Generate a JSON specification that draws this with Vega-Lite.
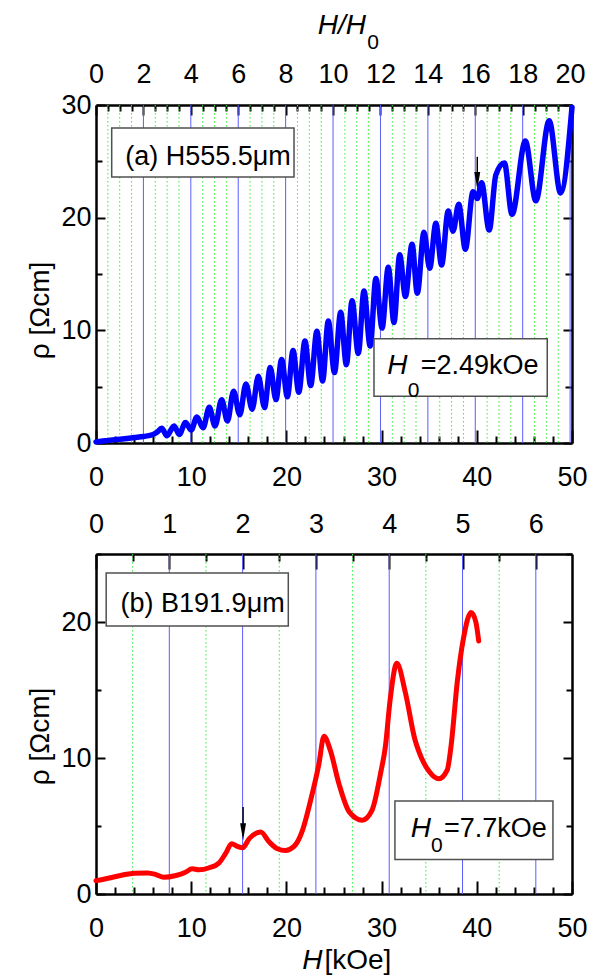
{
  "$schema": "https://vega.github.io/schema/vega-lite/v6.json",
  "padding": {"left": 26, "top": 12, "right": 5, "bottom": 0},
  "background": "white",
  "config": {
    "font": "Liberation Sans, Arial, sans-serif",
    "view": {"stroke": null},
    "axis": {
      "domainColor": "black", "domainWidth": 2.5,
      "tickColor": "black", "tickWidth": 2,
      "labelFont": "Liberation Sans, Arial, sans-serif",
      "labelFontSize": 27, "labelColor": "black",
      "labelFlush": false, "labelOverlap": false, "grid": false,
      "titleFont": "Liberation Sans, Arial, sans-serif",
      "titleFontSize": 28, "titleFontWeight": "normal", "titleColor": "black"
    },
    "text": {"color": "black", "baseline": "alphabetic"}
  },
  "datasets": {
    "curveA": [
      {"h": 0, "rho": 0.1}, {"h": 1, "rho": 0.2}, {"h": 2, "rho": 0.3}, {"h": 3, "rho": 0.38},
      {"h": 4, "rho": 0.48}, {"h": 5, "rho": 0.58}, {"h": 6, "rho": 0.75}, {"h": 6.4, "rho": 0.95},
      {"h": 6.9, "rho": 1.3}, {"h": 7.45, "rho": 0.65}, {"h": 8.2, "rho": 1.52}, {"h": 8.75, "rho": 0.77},
      {"h": 9.4, "rho": 1.82}, {"h": 10.0, "rho": 1.15}, {"h": 10.6, "rho": 2.3}, {"h": 11.25, "rho": 1.36},
      {"h": 11.9, "rho": 3.18}, {"h": 12.5, "rho": 1.5}, {"h": 13.2, "rho": 3.84}, {"h": 13.8, "rho": 1.95},
      {"h": 14.45, "rho": 4.59}, {"h": 15.1, "rho": 2.5}, {"h": 15.75, "rho": 5.24}, {"h": 16.4, "rho": 3.0},
      {"h": 17.05, "rho": 5.92}, {"h": 17.7, "rho": 3.15}, {"h": 18.3, "rho": 6.7}, {"h": 18.9, "rho": 3.85},
      {"h": 19.5, "rho": 7.42}, {"h": 20.1, "rho": 4.1}, {"h": 20.7, "rho": 8.2}, {"h": 21.3, "rho": 4.5},
      {"h": 21.95, "rho": 9.05}, {"h": 22.55, "rho": 5.1}, {"h": 23.2, "rho": 9.91}, {"h": 23.8, "rho": 5.5},
      {"h": 24.4, "rho": 10.83}, {"h": 25.05, "rho": 6.25}, {"h": 25.7, "rho": 11.6}, {"h": 26.3, "rho": 6.95},
      {"h": 26.9, "rho": 12.63}, {"h": 27.55, "rho": 7.95}, {"h": 28.15, "rho": 13.5}, {"h": 28.8, "rho": 8.6},
      {"h": 29.4, "rho": 14.6}, {"h": 30.05, "rho": 10.2}, {"h": 30.7, "rho": 15.6}, {"h": 31.3, "rho": 10.7},
      {"h": 31.9, "rho": 16.7}, {"h": 32.5, "rho": 13.0}, {"h": 33.2, "rho": 17.65}, {"h": 33.75, "rho": 13.3},
      {"h": 34.45, "rho": 18.7}, {"h": 35.05, "rho": 15.5}, {"h": 35.7, "rho": 19.5}, {"h": 36.3, "rho": 15.8},
      {"h": 37.0, "rho": 20.6}, {"h": 37.5, "rho": 18.8}, {"h": 38.1, "rho": 21.2}, {"h": 38.8, "rho": 17.2},
      {"h": 39.6, "rho": 22.3}, {"h": 40.05, "rho": 21.7}, {"h": 40.5, "rho": 23.1}, {"h": 41.3, "rho": 18.9},
      {"h": 42.0, "rho": 23.8}, {"h": 42.9, "rho": 24.85}, {"h": 43.7, "rho": 20.3}, {"h": 45.1, "rho": 26.8},
      {"h": 46.2, "rho": 21.5}, {"h": 47.6, "rho": 28.6}, {"h": 48.8, "rho": 22.2}, {"h": 50.0, "rho": 29.8}
    ],
    "curveB": [
      {"h": 0, "rho": 0.98}, {"h": 1.4, "rho": 1.18}, {"h": 2.8, "rho": 1.4}, {"h": 4.0, "rho": 1.53},
      {"h": 5.4, "rho": 1.55}, {"h": 6.3, "rho": 1.43}, {"h": 7.1, "rho": 1.23}, {"h": 8.4, "rho": 1.36},
      {"h": 9.4, "rho": 1.6}, {"h": 10.1, "rho": 1.85}, {"h": 10.8, "rho": 1.78}, {"h": 11.9, "rho": 1.93},
      {"h": 12.9, "rho": 2.27}, {"h": 13.6, "rho": 2.96}, {"h": 14.25, "rho": 3.7}, {"h": 14.85, "rho": 3.5},
      {"h": 15.4, "rho": 3.4}, {"h": 16.1, "rho": 4.07}, {"h": 17.3, "rho": 4.56}, {"h": 18.2, "rho": 3.82},
      {"h": 19.05, "rho": 3.33}, {"h": 19.9, "rho": 3.2}, {"h": 20.8, "rho": 3.5}, {"h": 21.7, "rho": 4.7},
      {"h": 22.55, "rho": 6.9}, {"h": 23.4, "rho": 9.5}, {"h": 23.95, "rho": 11.6}, {"h": 24.6, "rho": 10.6},
      {"h": 25.5, "rho": 8.15}, {"h": 26.6, "rho": 6.04}, {"h": 27.97, "rho": 5.43}, {"h": 29.0, "rho": 6.17},
      {"h": 29.9, "rho": 8.9}, {"h": 30.4, "rho": 10.86}, {"h": 30.9, "rho": 14.3}, {"h": 31.6, "rho": 16.96},
      {"h": 32.5, "rho": 14.8}, {"h": 33.5, "rho": 11.36}, {"h": 33.9, "rho": 10.5}, {"h": 35.0, "rho": 9.0},
      {"h": 36.0, "rho": 8.47}, {"h": 36.9, "rho": 9.13}, {"h": 37.3, "rho": 10.9}, {"h": 37.95, "rho": 15.6},
      {"h": 38.6, "rho": 18.8}, {"h": 39.4, "rho": 20.7}, {"h": 39.9, "rho": 20.0}, {"h": 40.2, "rho": 18.6}
    ],
    "gridA": [
      {"hh0": 0.5, "kind": "half"}, {"hh0": 1, "kind": "half"}, {"hh0": 1.5, "kind": "half"},
      {"hh0": 2.5, "kind": "half"}, {"hh0": 3, "kind": "half"}, {"hh0": 3.5, "kind": "half"},
      {"hh0": 4.5, "kind": "half"}, {"hh0": 5, "kind": "half"}, {"hh0": 5.5, "kind": "half"},
      {"hh0": 6.5, "kind": "half"}, {"hh0": 7, "kind": "half"}, {"hh0": 7.5, "kind": "half"},
      {"hh0": 8.5, "kind": "half"}, {"hh0": 9, "kind": "half"}, {"hh0": 9.5, "kind": "half"},
      {"hh0": 10.5, "kind": "half"}, {"hh0": 11, "kind": "half"}, {"hh0": 11.5, "kind": "half"},
      {"hh0": 12.5, "kind": "half"}, {"hh0": 13, "kind": "half"}, {"hh0": 13.5, "kind": "half"},
      {"hh0": 14.5, "kind": "half"}, {"hh0": 15, "kind": "half"}, {"hh0": 15.5, "kind": "half"},
      {"hh0": 16.5, "kind": "half"}, {"hh0": 17, "kind": "half"}, {"hh0": 17.5, "kind": "half"},
      {"hh0": 18.5, "kind": "half"}, {"hh0": 19, "kind": "half"}, {"hh0": 19.5, "kind": "half"},
      {"hh0": 2, "kind": "main"}, {"hh0": 4, "kind": "main"}, {"hh0": 6, "kind": "main"},
      {"hh0": 8, "kind": "main"}, {"hh0": 10, "kind": "main"}, {"hh0": 12, "kind": "main"},
      {"hh0": 14, "kind": "main"}, {"hh0": 16, "kind": "main"}, {"hh0": 18, "kind": "main"},
      {"hh0": 20, "kind": "main"}
    ],
    "gridB": [
      {"hh0": 0.5, "kind": "half"}, {"hh0": 1.5, "kind": "half"}, {"hh0": 2.5, "kind": "half"},
      {"hh0": 3.5, "kind": "half"}, {"hh0": 4.5, "kind": "half"}, {"hh0": 5.5, "kind": "half"},
      {"hh0": 1, "kind": "main"}, {"hh0": 2, "kind": "main"}, {"hh0": 3, "kind": "main"},
      {"hh0": 4, "kind": "main"}, {"hh0": 5, "kind": "main"}, {"hh0": 6, "kind": "main"}
    ],
    "boxA": [
      {"h1": 1.65, "h2": 20.8, "r1": 27.95, "r2": 23.6},
      {"h1": 29.2, "h2": 47.4, "r1": 9.25, "r2": 4.14}
    ],
    "boxB": [
      {"h1": 1.07, "h2": 20.2, "r1": 23.6, "r2": 19.7},
      {"h1": 31.4, "h2": 48.0, "r1": 6.84, "r2": 2.54}
    ],
    "sampleA": [{"h": 11.76, "rho": 24.7, "text": "(a) H555.5μm"}],
    "sampleB": [{"h": 11.2, "rho": 20.74, "text": "(b) B191.9μm"}],
    "fieldA": [{"h": 34.1, "rho": 6.15, "text": "=2.49kOe"}],
    "fieldB": [{"h": 36.55, "rho": 4.19, "text": "=7.7kOe"}],
    "italicA": [{"h": 30.6, "rho": 6.15, "text": "H"}, {"h": 23.3, "rho": 36.3, "text": "H/H"}],
    "italicB": [{"h": 33.05, "rho": 4.19, "text": "H"}],
    "axisNameB": [{"h": 23.8, "rho": -5.5, "text": "H"}],
    "subA": [{"h": 32.75, "rho": 4.08, "text": "0"}, {"h": 28.5, "rho": 34.97, "text": "0"}],
    "subB": [{"h": 35.2, "rho": 3.08, "text": "0"}],
    "unitB": [{"h": 24.0, "rho": -5.5, "text": "[kOe]"}],
    "arrowA": [{"h": 40.05, "r1": 25.4, "r2": 23.3}],
    "arrowB": [{"h": 15.45, "r1": 6.4, "r2": 4.58}]
  },
  "vconcat": [
    {
      "width": 476,
      "height": 338,
      "layer": [
        {
          "data": {"name": "gridA"},
          "mark": {"type": "rule", "strokeWidth": 1},
          "encoding": {
            "x": {
              "field": "hh0", "type": "quantitative",
              "scale": {"domain": [0, 20.0803], "nice": false, "zero": false},
              "axis": {
                "orient": "top", "title": null,
                "values": [0, 0.5, 1, 1.5, 2, 2.5, 3, 3.5, 4, 4.5, 5, 5.5, 6, 6.5, 7, 7.5, 8, 8.5, 9, 9.5, 10, 10.5, 11, 11.5, 12, 12.5, 13, 13.5, 14, 14.5, 15, 15.5, 16, 16.5, 17, 17.5, 18, 18.5, 19, 19.5, 20],
                "labelExpr": "datum.value % 2 === 0 ? format(datum.value, 'd') : ''",
                "tickSize": {"condition": {"test": "datum.value % 2 === 0", "value": -10}, "value": -6},
                "labelPadding": 27
              }
            },
            "color": {"field": "kind", "type": "nominal", "scale": {"domain": ["half", "main"], "range": ["#33ee33", "#5c5cff"]}, "legend": null},
            "strokeDash": {"field": "kind", "type": "nominal", "scale": {"domain": ["half", "main"], "range": [[1.5, 2.5], [1, 0]]}, "legend": null}
          }
        },
        {
          "data": {"name": "curveA"},
          "mark": {"type": "line", "color": "#0000ff", "strokeWidth": 5.5, "interpolate": "monotone", "strokeCap": "round", "strokeJoin": "round"},
          "encoding": {
            "x": {"field": "h", "type": "quantitative", "scale": {"domain": [0, 50], "nice": false},
              "axis": {
                "orient": "bottom", "title": null,
                "values": [0, 2, 4, 6, 8, 10, 12, 14, 16, 18, 20, 22, 24, 26, 28, 30, 32, 34, 36, 38, 40, 42, 44, 46, 48, 50],
                "labelExpr": "datum.value % 10 === 0 ? format(datum.value, 'd') : ''",
                "tickSize": {"condition": {"test": "datum.value % 10 === 0", "value": -13}, "value": -7},
                "labelPadding": 34.5
              }},
            "y": {"field": "rho", "type": "quantitative", "scale": {"domain": [0, 30], "nice": false},
              "axis": {
                "orient": "left", "title": "ρ [Ωcm]",
                "values": [0, 5, 10, 15, 20, 25, 30],
                "labelExpr": "datum.value % 10 === 0 ? format(datum.value, 'd') : ''",
                "tickSize": {"condition": {"test": "datum.value % 10 === 0", "value": -9}, "value": -6},
                "labelPadding": 14,
                "titlePadding": 6,
                "titleY": 205
              }}
          }
        },
        {
          "data": {"name": "curveA"},
          "mark": {"type": "point", "opacity": 0},
          "encoding": {
            "x": {"field": "h", "type": "quantitative", "scale": {"domain": [0, 50], "nice": false}, "axis": null},
            "y": {"field": "rho", "type": "quantitative", "scale": {"domain": [0, 30], "nice": false},
              "axis": {
                "orient": "right", "title": null, "labels": false,
                "values": [0, 5, 10, 15, 20, 25, 30],
                "tickSize": {"condition": {"test": "datum.value % 10 === 0", "value": -9}, "value": -7}
              }}
          }
        },
        {
          "data": {"name": "boxA"},
          "mark": {"type": "rect", "fill": "white", "stroke": "#505050", "strokeWidth": 1.5},
          "encoding": {
            "x": {"field": "h1", "type": "quantitative", "scale": {"domain": [0, 50], "nice": false}, "axis": null},
            "x2": {"field": "h2"},
            "y": {"field": "r1", "type": "quantitative", "scale": {"domain": [0, 30], "nice": false}, "axis": null},
            "y2": {"field": "r2"}
          }
        },
        {
          "data": {"name": "sampleA"},
          "mark": {"type": "text", "fontSize": 27, "align": "center"},
          "encoding": {
            "x": {"field": "h", "type": "quantitative", "scale": {"domain": [0, 50], "nice": false}, "axis": null},
            "y": {"field": "rho", "type": "quantitative", "scale": {"domain": [0, 30], "nice": false}, "axis": null},
            "text": {"field": "text"}
          }
        },
        {
          "data": {"name": "fieldA"},
          "mark": {"type": "text", "fontSize": 27, "align": "left"},
          "encoding": {
            "x": {"field": "h", "type": "quantitative", "scale": {"domain": [0, 50], "nice": false}, "axis": null},
            "y": {"field": "rho", "type": "quantitative", "scale": {"domain": [0, 30], "nice": false}, "axis": null},
            "text": {"field": "text"}
          }
        },
        {
          "data": {"name": "italicA"},
          "mark": {"type": "text", "fontSize": 28, "fontStyle": "italic", "align": "left"},
          "encoding": {
            "x": {"field": "h", "type": "quantitative", "scale": {"domain": [0, 50], "nice": false}, "axis": null},
            "y": {"field": "rho", "type": "quantitative", "scale": {"domain": [0, 30], "nice": false}, "axis": null},
            "text": {"field": "text"}
          }
        },
        {
          "data": {"name": "subA"},
          "mark": {"type": "text", "fontSize": 21, "align": "left"},
          "encoding": {
            "x": {"field": "h", "type": "quantitative", "scale": {"domain": [0, 50], "nice": false}, "axis": null},
            "y": {"field": "rho", "type": "quantitative", "scale": {"domain": [0, 30], "nice": false}, "axis": null},
            "text": {"field": "text"}
          }
        },
        {
          "data": {"name": "arrowA"},
          "mark": {"type": "rule", "color": "black", "strokeWidth": 1.5},
          "encoding": {
            "x": {"field": "h", "type": "quantitative", "scale": {"domain": [0, 50], "nice": false}, "axis": null},
            "y": {"field": "r1", "type": "quantitative", "scale": {"domain": [0, 30], "nice": false}, "axis": null},
            "y2": {"field": "r2"}
          }
        },
        {
          "data": {"name": "arrowA"},
          "mark": {"type": "point", "shape": "M-0.35,-1L0.35,-1L0,1Z", "size": 289, "filled": true, "color": "black", "opacity": 1},
          "encoding": {
            "x": {"field": "h", "type": "quantitative", "scale": {"domain": [0, 50], "nice": false}, "axis": null},
            "y": {"field": "r2", "type": "quantitative", "scale": {"domain": [0, 30], "nice": false}, "axis": null}
          }
        }
      ],
      "resolve": {"scale": {"x": "independent"}, "axis": {"x": "independent", "y": "independent"}}
    },
    {
      "width": 476,
      "height": 340,
      "layer": [
        {
          "data": {"name": "gridB"},
          "mark": {"type": "rule", "strokeWidth": 1},
          "encoding": {
            "x": {
              "field": "hh0", "type": "quantitative",
              "scale": {"domain": [0, 6.4935], "nice": false, "zero": false},
              "axis": {
                "orient": "top", "title": null,
                "values": [0, 0.5, 1, 1.5, 2, 2.5, 3, 3.5, 4, 4.5, 5, 5.5, 6],
                "labelExpr": "datum.value % 1 === 0 ? format(datum.value, 'd') : ''",
                "tickSize": {"condition": {"test": "datum.value % 1 === 0", "value": -15}, "value": -7},
                "labelPadding": 30.5
              }
            },
            "color": {"field": "kind", "type": "nominal", "scale": {"domain": ["half", "main"], "range": ["#33ee33", "#5c5cff"]}, "legend": null},
            "strokeDash": {"field": "kind", "type": "nominal", "scale": {"domain": ["half", "main"], "range": [[1.5, 2.5], [1, 0]]}, "legend": null}
          }
        },
        {
          "data": {"name": "curveB"},
          "mark": {"type": "line", "color": "#ff0000", "strokeWidth": 5, "interpolate": "monotone", "strokeCap": "round", "strokeJoin": "round"},
          "encoding": {
            "x": {"field": "h", "type": "quantitative", "scale": {"domain": [0, 50], "nice": false},
              "axis": {
                "orient": "bottom", "title": null,
                "values": [0, 2, 4, 6, 8, 10, 12, 14, 16, 18, 20, 22, 24, 26, 28, 30, 32, 34, 36, 38, 40, 42, 44, 46, 48, 50],
                "labelExpr": "datum.value % 10 === 0 ? format(datum.value, 'd') : ''",
                "tickSize": {"condition": {"test": "datum.value % 10 === 0", "value": -13}, "value": -7},
                "labelPadding": 34.5
              }},
            "y": {"field": "rho", "type": "quantitative", "scale": {"domain": [0, 25], "nice": false},
              "axis": {
                "orient": "left", "title": "ρ [Ωcm]",
                "values": [0, 5, 10, 15, 20, 25],
                "labelExpr": "datum.value % 10 === 0 ? format(datum.value, 'd') : ''",
                "tickSize": {"condition": {"test": "datum.value % 10 === 0", "value": -9}, "value": -5},
                "labelPadding": 14,
                "titlePadding": 6,
                "titleY": 182
              }}
          }
        },
        {
          "data": {"name": "curveB"},
          "mark": {"type": "point", "opacity": 0},
          "encoding": {
            "x": {"field": "h", "type": "quantitative", "scale": {"domain": [0, 50], "nice": false}, "axis": null},
            "y": {"field": "rho", "type": "quantitative", "scale": {"domain": [0, 25], "nice": false},
              "axis": {
                "orient": "right", "title": null, "labels": false,
                "values": [0, 5, 10, 15, 20, 25],
                "tickSize": {"condition": {"test": "datum.value % 10 === 0", "value": -9}, "value": -6}
              }}
          }
        },
        {
          "data": {"name": "boxB"},
          "mark": {"type": "rect", "fill": "white", "stroke": "#505050", "strokeWidth": 1.5},
          "encoding": {
            "x": {"field": "h1", "type": "quantitative", "scale": {"domain": [0, 50], "nice": false}, "axis": null},
            "x2": {"field": "h2"},
            "y": {"field": "r1", "type": "quantitative", "scale": {"domain": [0, 25], "nice": false}, "axis": null},
            "y2": {"field": "r2"}
          }
        },
        {
          "data": {"name": "sampleB"},
          "mark": {"type": "text", "fontSize": 27, "align": "center"},
          "encoding": {
            "x": {"field": "h", "type": "quantitative", "scale": {"domain": [0, 50], "nice": false}, "axis": null},
            "y": {"field": "rho", "type": "quantitative", "scale": {"domain": [0, 25], "nice": false}, "axis": null},
            "text": {"field": "text"}
          }
        },
        {
          "data": {"name": "fieldB"},
          "mark": {"type": "text", "fontSize": 27, "align": "left"},
          "encoding": {
            "x": {"field": "h", "type": "quantitative", "scale": {"domain": [0, 50], "nice": false}, "axis": null},
            "y": {"field": "rho", "type": "quantitative", "scale": {"domain": [0, 25], "nice": false}, "axis": null},
            "text": {"field": "text"}
          }
        },
        {
          "data": {"name": "italicB"},
          "mark": {"type": "text", "fontSize": 28, "fontStyle": "italic", "align": "left"},
          "encoding": {
            "x": {"field": "h", "type": "quantitative", "scale": {"domain": [0, 50], "nice": false}, "axis": null},
            "y": {"field": "rho", "type": "quantitative", "scale": {"domain": [0, 25], "nice": false}, "axis": null},
            "text": {"field": "text"}
          }
        },
        {
          "data": {"name": "axisNameB"},
          "mark": {"type": "text", "fontSize": 28, "fontStyle": "italic", "align": "right"},
          "encoding": {
            "x": {"field": "h", "type": "quantitative", "scale": {"domain": [0, 50], "nice": false}, "axis": null},
            "y": {"field": "rho", "type": "quantitative", "scale": {"domain": [0, 25], "nice": false}, "axis": null},
            "text": {"field": "text"}
          }
        },
        {
          "data": {"name": "unitB"},
          "mark": {"type": "text", "fontSize": 28, "align": "left"},
          "encoding": {
            "x": {"field": "h", "type": "quantitative", "scale": {"domain": [0, 50], "nice": false}, "axis": null},
            "y": {"field": "rho", "type": "quantitative", "scale": {"domain": [0, 25], "nice": false}, "axis": null},
            "text": {"field": "text"}
          }
        },
        {
          "data": {"name": "subB"},
          "mark": {"type": "text", "fontSize": 21, "align": "left"},
          "encoding": {
            "x": {"field": "h", "type": "quantitative", "scale": {"domain": [0, 50], "nice": false}, "axis": null},
            "y": {"field": "rho", "type": "quantitative", "scale": {"domain": [0, 25], "nice": false}, "axis": null},
            "text": {"field": "text"}
          }
        },
        {
          "data": {"name": "arrowB"},
          "mark": {"type": "rule", "color": "black", "strokeWidth": 1.5},
          "encoding": {
            "x": {"field": "h", "type": "quantitative", "scale": {"domain": [0, 50], "nice": false}, "axis": null},
            "y": {"field": "r1", "type": "quantitative", "scale": {"domain": [0, 25], "nice": false}, "axis": null},
            "y2": {"field": "r2"}
          }
        },
        {
          "data": {"name": "arrowB"},
          "mark": {"type": "point", "shape": "M-0.35,-1L0.35,-1L0,1Z", "size": 289, "filled": true, "color": "black", "opacity": 1},
          "encoding": {
            "x": {"field": "h", "type": "quantitative", "scale": {"domain": [0, 50], "nice": false}, "axis": null},
            "y": {"field": "r2", "type": "quantitative", "scale": {"domain": [0, 25], "nice": false}, "axis": null}
          }
        }
      ],
      "resolve": {"scale": {"x": "independent"}, "axis": {"x": "independent", "y": "independent"}}
    }
  ],
  "spacing": 111,
  "bounds": "flush"
}
